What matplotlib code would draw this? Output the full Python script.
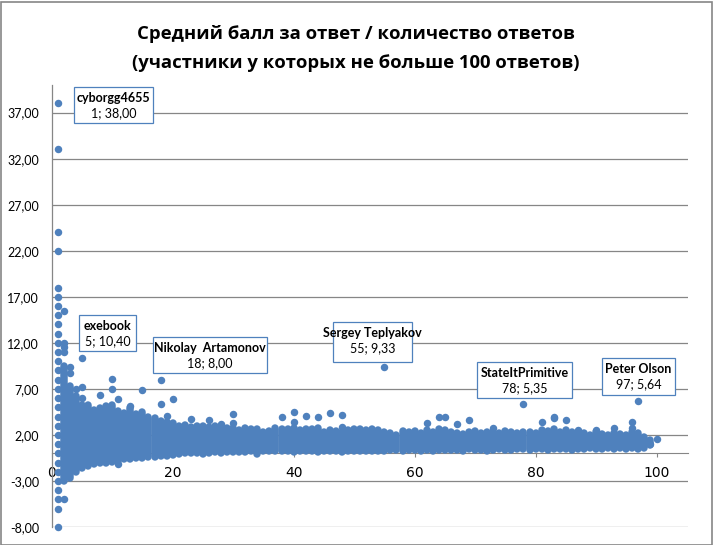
import numpy as np
import matplotlib.pyplot as plt
from matplotlib.patches import Rectangle

# x = number of answers, y = average score per answer
x_single = [1] * 30
y_single = [38, 33, 24, 22, 18, 17, 16, 15, 14, 13, 12, 11, 10, 9, 8, 7, 6, 5,
            4, 3, 2, 1, 0, -1, -2, -3, -4, -5, -6, -8]

# dense band: for each count, lowest and highest average
band_x = list(range(2, 100))
band_hi = [9.5, 7.33, 6.25, 5.2, 5.3, 4.7, 4.9, 5.1, 5.3, 4.6, 4.4, 4.9, 4.3, 4.5, 3.9,
           3.8, 3.5, 3.4, 3.3, 3.0, 3.1, 2.9, 3.0, 3.0, 2.9, 3.0, 2.8, 2.7, 2.8, 2.5,
           2.7, 2.6, 2.6, 2.3, 2.4, 2.7, 2.6, 2.6, 2.7, 2.5, 2.6, 2.6, 2.7, 2.3, 2.5,
           2.4, 2.3, 2.5, 2.6, 2.6, 2.5, 2.6, 2.5, 2.3, 2.2, 2.0, 2.4, 2.3, 2.4, 2.2,
           2.5, 2.3, 2.6, 2.5, 2.3, 2.2, 2.1, 2.3, 2.4, 2.2, 2.3, 2.3, 2.2, 2.4, 2.3,
           2.2, 2.3, 2.3, 2.2, 2.5, 2.4, 2.6, 2.3, 2.5, 2.3, 2.1, 2.2, 2.0, 2.3, 2.1,
           2.0, 2.2, 2.1, 2.0, 2.3, 2.2, 1.8, 1.4]
band_lo = [-3.0, -2.67, -2.0, -1.6, -1.33, -1.14, -1.0, -1.1, -0.9, -0.8, -0.6, -0.6, -0.5,
           -0.5, -0.4, -0.4, -0.3, -0.3, -0.2, -0.1, 0.0, 0.0, 0.0, -0.1, 0.0, 0.1, 0.0,
           0.1, 0.1, 0.1, 0.1, 0.2, -0.1, 0.2, 0.2, 0.2, 0.2, 0.2, 0.1, 0.2, 0.2, 0.2,
           0.1, 0.3, 0.2, 0.3, 0.1, 0.3, 0.2, 0.3, 0.3, 0.3, 0.2, 0.3, 0.4, 0.4, 0.3,
           0.4, 0.4, 0.3, 0.4, 0.3, 0.4, 0.4, 0.4, 0.4, 0.3, 0.5, 0.4, 0.4, 0.3, 0.4,
           0.5, 0.4, 0.4, 0.5, 0.5, 0.4, 0.5, 0.5, 0.4, 0.5, 0.5, 0.5, 0.4, 0.5, 0.5,
           0.6, 0.5, 0.5, 0.6, 0.5, 0.6, 0.5, 0.6, 0.5, 0.6, 0.9]

# points standing out of the band
out_x = [2, 2, 2, 2, 2, 3, 3, 4, 5, 5, 5, 8, 10, 10, 11, 11, 13, 15, 18, 18, 19, 20,
         23, 26, 28, 30, 30, 38, 40, 40, 42, 44, 46, 48, 48, 55, 62, 64, 65, 67, 69,
         73, 78, 81, 83, 83, 85, 87, 90, 93, 96, 96, 97, 99, 100]
out_y = [15.5, 12.0, 11.5, 11.0, -5.0, 9.33, 8.67, 7.0, 10.4, 7.2, 6.0, 6.3, 8.1, 7.0,
         5.9, -1.2, 5.1, 6.9, 8.0, 5.4, 4.1, 5.9, 3.7, 3.6, 3.2, 4.3, 3.3, 3.9, 4.5,
         3.4, 4.1, 3.95, 4.35, 4.2, 2.9, 9.33, 3.3, 4.0, 3.9, 3.2, 3.6, 2.7, 5.35,
         3.45, 4.0, 3.8, 3.6, 2.5, 2.5, 2.8, 3.45, 2.7, 5.64, 1.0, 1.6]

labels = ["cyborgg4655", "exebook", "Nikolay  Artamonov", "Sergey Teplyakov",
          "StateItPrimitive", "Peter Olson"]
label_x = [1, 5, 18, 55, 78, 97]
label_y = [38.00, 10.40, 8.00, 9.33, 5.35, 5.64]

title1 = "Средний балл за ответ / количество ответов"
title2 = "(участники у которых не больше 100 ответов)"

W, H = 713, 545
blue = "#4F81BD"
gray = "#868686"
font = ["Lato", "DejaVu Sans"]

fig = plt.figure(figsize=(W / 100, H / 100), dpi=100)
ax = fig.add_axes([51.7 / W, 18 / H, (688 - 51.7) / W, (527 - 85) / H])

ax.vlines(band_x, band_lo, band_hi, colors=blue, linewidth=5.4, capstyle="round",
          clip_on=False, zorder=3)
ax.scatter(x_single, y_single, s=29, color=blue, linewidths=0, clip_on=False, zorder=3)
ax.scatter(out_x, out_y, s=29, color=blue, linewidths=0, clip_on=False, zorder=3)

ax.set_xlim(0, 105.2)
ax.set_ylim(-8, 40)
yt = np.arange(-8, 38, 5)
ax.set_yticks(yt)
ax.set_yticklabels([f"{v:.2f}".replace(".", ",") for v in yt], fontfamily=font, fontsize=9)
xt = [0, 20, 40, 60, 80, 100]
ax.set_xticks(xt)
ax.set_xticklabels([str(v) for v in xt], fontfamily=font, fontsize=9)
ax.tick_params(axis="y", length=0, pad=9)
ax.tick_params(axis="x", length=3, pad=6, color=gray, direction="out")
ax.grid(axis="y", color=gray, linewidth=0.9)
ax.set_axisbelow(True)
for s in ["top", "right"]:
    ax.spines[s].set_visible(False)
ax.spines["bottom"].set_position(("data", 0))
ax.spines["bottom"].set_color(gray)
ax.spines["left"].set_color(gray)
ax.spines["left"].set_linewidth(0.9)

for txt, ty in [(title1, 34), (title2, 63)]:
    fig.text(356 / W, 1 - ty / H, txt, ha="center", va="center", fontsize=13.3,
             fontweight="bold", family=["Open Sans", "DejaVu Sans"])

# label boxes (pixel boxes: left, top, right, bottom)
boxes = [(74, 87, 153, 123), (79, 315, 136, 351), (153, 337, 267, 373),
         (333, 322, 412, 362), (477, 362, 572, 398), (602, 358, 675, 395)]
for name, lx, ly, (l, t, r, b) in zip(labels, label_x, label_y, boxes):
    fig.add_artist(Rectangle((l / W, 1 - b / H), (r - l) / W, (b - t) / H,
                             transform=fig.transFigure, facecolor="white",
                             edgecolor=blue, linewidth=0.9, zorder=5))
    cx = (l + r) / 2 / W
    fig.text(cx, 1 - (t + 11) / H, name, ha="center", va="center", fontsize=9,
             fontweight="bold", family=font, zorder=6)
    fig.text(cx, 1 - (t + 26) / H, f"{lx}; {ly:.2f}".replace(".", ","), ha="center",
             va="center", fontsize=9, family=font, zorder=6)

fig.add_artist(Rectangle((0.5 / W, 0.5 / H), (W - 2) / W, (H - 2) / H,
                         transform=fig.transFigure, fill=False, edgecolor=gray, linewidth=1.2))

fig.savefig("out.png", dpi=100)
